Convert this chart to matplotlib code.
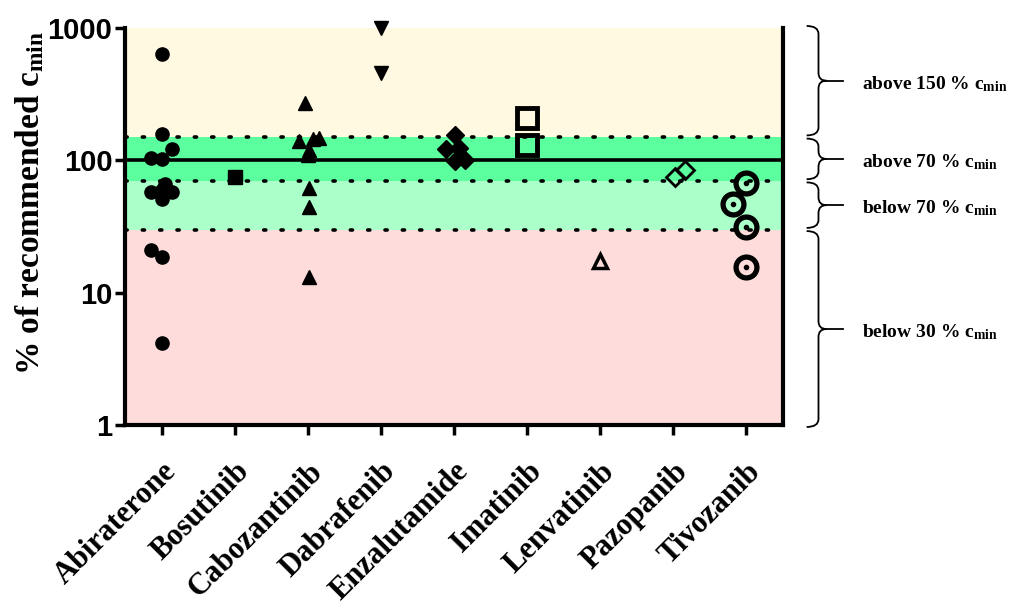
import numpy as np
import matplotlib.pyplot as plt
from matplotlib.path import Path
from matplotlib.patches import PathPatch

plt.rcParams['mathtext.fontset'] = 'custom'
plt.rcParams['mathtext.rm'] = 'Liberation Serif:bold'
plt.rcParams['mathtext.bf'] = 'Liberation Serif:bold'
plt.rcParams['mathtext.default'] = 'rm'

drugs = ["Abiraterone", "Bosutinib", "Cabozantinib", "Dabrafenib", "Enzalutamide",
         "Imatinib", "Lenvatinib", "Pazopanib", "Tivozanib"]

# % of recommended c_min per patient
abiraterone = [634, 157, 121, 105, 102, 58, 66, 58, 51, 60, 21, 18.7, 4.2]
bosutinib = [75]
cabozantinib = [273, 144, 147, 140, 120, 110, 62, 44.7, 13.2]
dabrafenib = [1000, 455]
enzalutamide = [155, 121, 123, 98, 100]
imatinib = [208, 131]
lenvatinib = [17.2]
pazopanib = [75, 85]
tivozanib = [67, 47, 31.5, 15.7]

# small horizontal spread so overlapping points stay visible
abiraterone_dx = [0, 0, 0.14, -0.14, 0, -0.14, 0.05, 0.14, 0, 0, -0.14, 0, 0]
cabozantinib_dx = [-0.04, 0.07, 0.15, -0.12, 0.02, 0, 0.02, 0.02, 0.02]
enzalutamide_dx = [0.01, -0.11, 0.07, 0.01, 0.15]
pazopanib_dx = [0.02, 0.16]
tivozanib_dx = [0, -0.18, 0, 0]

# bands (lower, upper) and labels
band_edges = [1, 30, 70, 150, 1000]
band_colors = ['#FFDCDC', '#ABFFC9', '#5BFF9E', '#FFF9E1']
band_labels = ["below 30 % c$_{min}$", "below 70 % c$_{min}$",
               "above 70 % c$_{min}$", "above 150 % c$_{min}$"]

fig = plt.figure(figsize=(10.22, 6.08), dpi=100)
ax = fig.add_axes([0.1223, 0.301, 0.6438, 0.653])

for i in range(4):
    ax.axhspan(band_edges[i], band_edges[i + 1], color=band_colors[i], lw=0, zorder=0)
for y in [30, 70, 150]:
    ax.axhline(y, color='black', lw=2.6, ls=(0, (0.6, 4.2)), dash_capstyle='round', zorder=1)
ax.axhline(100, color='black', lw=2.6, zorder=1)

def pts(i, vals, dx=None):
    if dx is None:
        dx = [0] * len(vals)
    return np.array(dx) + i, vals

x, y = pts(0, abiraterone, abiraterone_dx)
ax.plot(x, y, 'o', color='black', ms=9.5, ls='none', zorder=3)
x, y = pts(1, bosutinib)
ax.plot(x, y, 's', color='black', ms=10, ls='none', zorder=3)
x, y = pts(2, cabozantinib, cabozantinib_dx)
ax.plot(x, y, '^', color='black', ms=10, ls='none', zorder=3)
x, y = pts(3, dabrafenib)
ax.plot(x, y, 'v', color='black', ms=10, ls='none', zorder=3, clip_on=False)
x, y = pts(4, enzalutamide, enzalutamide_dx)
ax.plot(x, y, 'D', color='black', ms=9, ls='none', zorder=3)
x, y = pts(5, imatinib)
ax.plot(x, y, 's', mfc='none', mec='black', mew=3.5, ms=14, ls='none', zorder=3)
x, y = pts(6, lenvatinib)
ax.plot(x, y, '^', mfc='none', mec='black', mew=2.5, ms=10, ls='none', zorder=3)
x, y = pts(7, pazopanib, pazopanib_dx)
ax.plot(x, y, 'D', mfc='none', mec='black', mew=2, ms=9, ls='none', zorder=3)
x, y = pts(8, tivozanib, tivozanib_dx)
ax.plot(x, y, 'o', mfc='none', mec='black', mew=3.8, ms=15, ls='none', zorder=3)
ax.plot(x, y, 'o', color='black', ms=3, ls='none', zorder=3)

ax.set_yscale('log')
ax.set_ylim(1, 1000)
ax.set_xlim(-0.5, 8.5)
ax.set_yticks([1, 10, 100, 1000])
ax.set_yticklabels(['1', '10', '100', '1000'], fontsize=21, fontweight='bold',
                   family='Liberation Sans')
ax.yaxis.set_minor_locator(plt.NullLocator())
ax.set_xticks(range(len(drugs)))
ax.set_xticklabels(drugs, rotation=45, ha='right', rotation_mode='anchor',
                   fontsize=22, fontweight='bold', family='Liberation Serif')
ax.tick_params(axis='x', length=7, width=2.5, pad=16)
ax.tick_params(axis='y', length=7, width=2.5, pad=2)
ax.set_ylabel("% of recommended c$_{min}$", fontsize=24, fontweight='bold',
              family='Liberation Serif')
ax.yaxis.set_label_coords(-0.12, 0.56)

ax.spines['top'].set_visible(False)
for s in ['left', 'bottom', 'right']:
    ax.spines[s].set_linewidth(3)

# curly braces to the right of the plot
def brace(y0, y1, label):
    xe, xs, xt, xl = 1.036, 1.054, 1.066, 1.092
    r = 0.02
    ym = (y0 + y1) / 2
    verts = [(xe, y0), (xs, y0), (xs, y0 + r), (xs, ym - r), (xs, ym), (xt, ym),
             (xs, ym), (xs, ym + r), (xs, y1 - r), (xs, y1), (xe, y1)]
    codes = [Path.MOVETO, Path.CURVE3, Path.CURVE3, Path.LINETO, Path.CURVE3, Path.CURVE3,
             Path.CURVE3, Path.CURVE3, Path.LINETO, Path.CURVE3, Path.CURVE3]
    ax.add_patch(PathPatch(Path(verts, codes), fc='none', ec='black', lw=1.3,
                           transform=ax.transAxes, clip_on=False))
    ax.plot([xt, xl], [ym, ym], color='black', lw=1.3, transform=ax.transAxes, clip_on=False)
    ax.text(1.12, ym - 0.008, label, transform=ax.transAxes, fontsize=14,
            fontweight='bold', family='Liberation Serif', va='center', ha='left')

for i in range(4):
    y0 = np.log10(band_edges[i]) / 3 + 0.004
    y1 = np.log10(band_edges[i + 1]) / 3 - 0.004
    if i == 0:
        y0 = -0.005
    if i == 3:
        y1 = 1.005
    brace(y0, y1, band_labels[i])

fig.savefig('out.png', dpi=100)
